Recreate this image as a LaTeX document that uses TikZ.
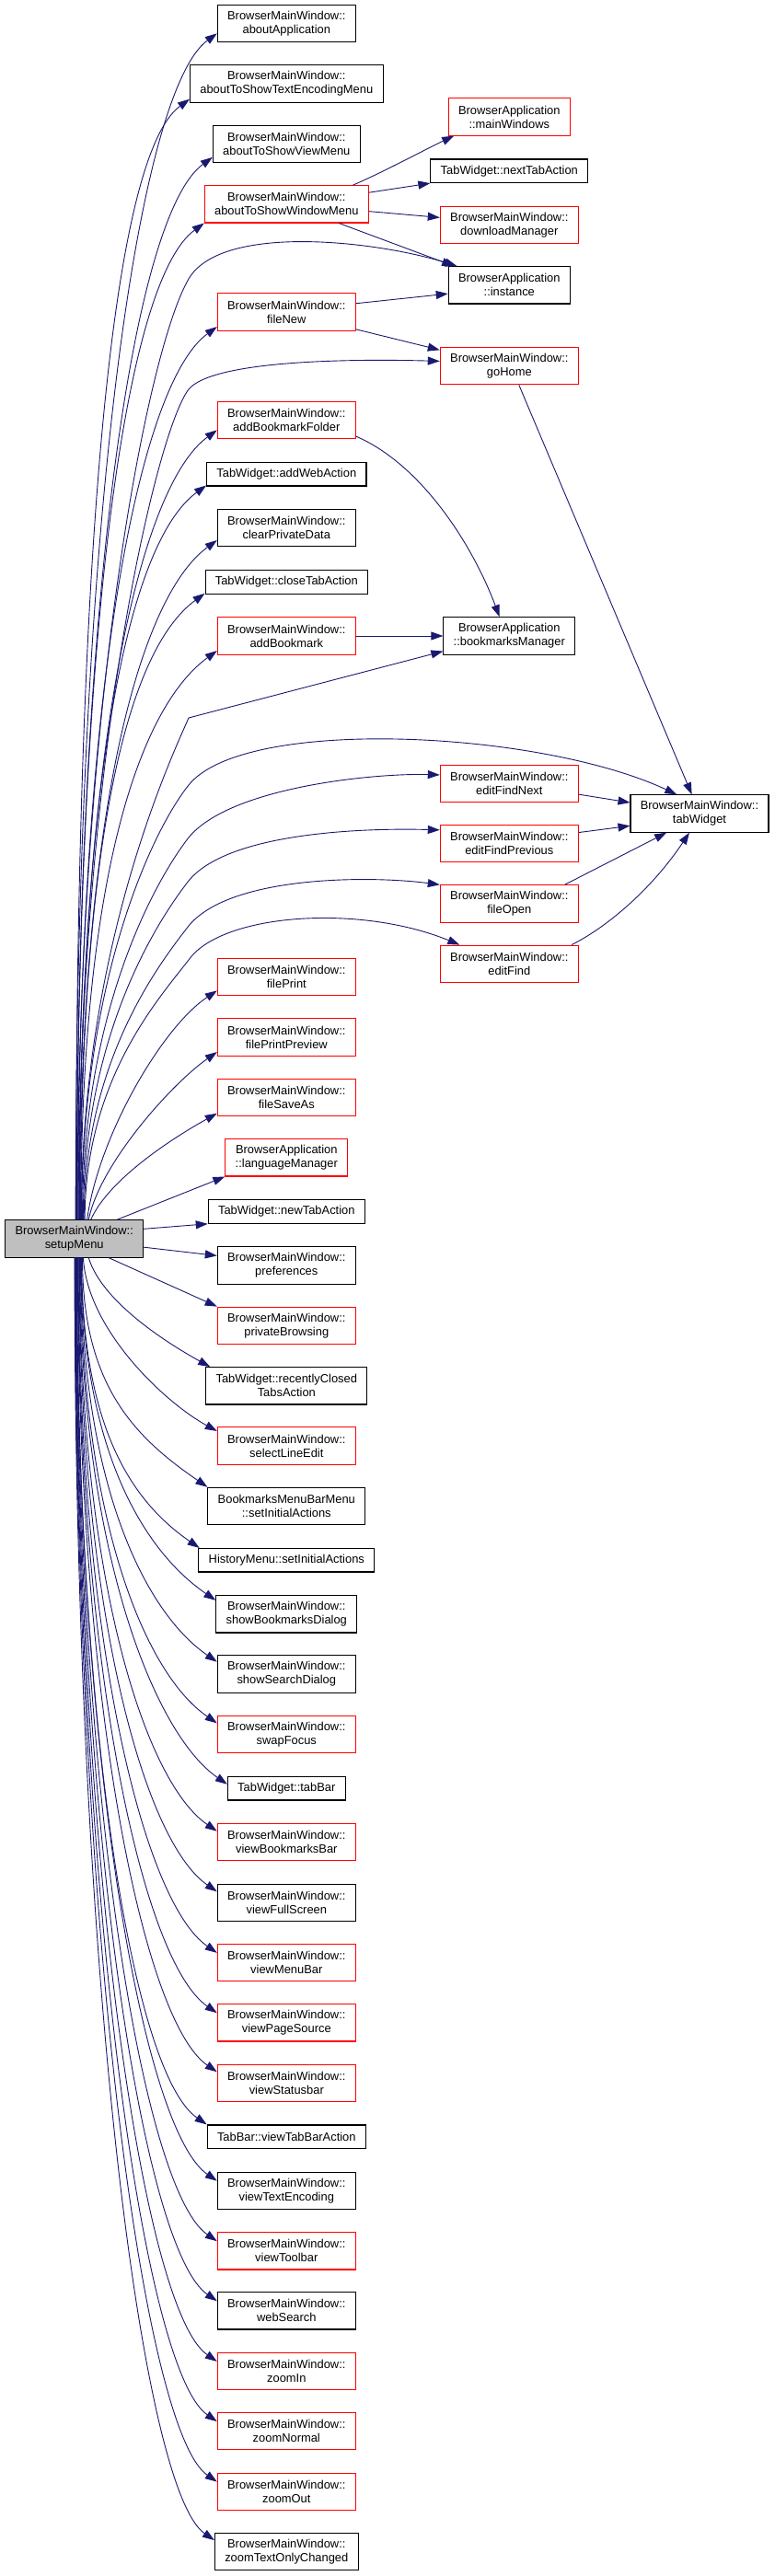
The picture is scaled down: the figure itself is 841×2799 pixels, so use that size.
\documentclass[tikz,border=0pt]{standalone}
\usepackage{fontspec}
\setmainfont{Liberation Sans}
\usepackage{xcolor}
\usepackage{tikz}
\usetikzlibrary{arrows.meta}

\definecolor{edgeblue}{HTML}{191970}
\definecolor{rootgray}{HTML}{BFBFBF}

\begin{document}
\begin{tikzpicture}[
    x=1pt, y=1pt,
    func/.style={draw=black, line width=1.1pt, font=\fontsize{12.9pt}{15pt}\selectfont, align=center, inner xsep=10.8pt, inner ysep=2pt, minimum height=25.5pt},
    tall/.style={minimum height=40.3pt},
    trunc/.style={draw=red},
    root/.style={fill=rootgray},
    call/.style={draw=edgeblue, line width=0.9pt, -{Triangle[length=13pt, width=9pt]}}
]
    \useasboundingbox (0,0) rectangle (841,-2799);

    % Root
    \node[func, tall, root] (setup) at (80.7,-1345.9) {BrowserMainWindow::\\setupMenu};

    % Called functions, first column
    \node[func, tall] (aboutApp) at (311.3,-25.7) {BrowserMainWindow::\\aboutApplication};
    \node[func, tall] (encMenu) at (311.3,-91) {BrowserMainWindow::\\aboutToShowTextEncodingMenu};
    \node[func, tall] (viewMenu) at (311.3,-156.7) {BrowserMainWindow::\\aboutToShowViewMenu};
    \node[func, tall, trunc] (winMenu) at (311.3,-221.8) {BrowserMainWindow::\\aboutToShowWindowMenu};
    \node[func, tall, trunc] (fileNew) at (311.3,-339) {BrowserMainWindow::\\fileNew};
    \node[func, tall, trunc] (addBmFolder) at (311.3,-456.7) {BrowserMainWindow::\\addBookmarkFolder};
    \node[func] (addWeb) at (311.3,-515.2) {TabWidget::addWebAction};
    \node[func, tall] (clearData) at (311.3,-573.7) {BrowserMainWindow::\\clearPrivateData};
    \node[func] (closeTab) at (311.3,-632.3) {TabWidget::closeTabAction};
    \node[func, tall, trunc] (addBm) at (311.3,-691) {BrowserMainWindow::\\addBookmark};
    \node[func, tall, trunc] (filePrint) at (311.3,-1061.7) {BrowserMainWindow::\\filePrint};
    \node[func, tall, trunc] (printPreview) at (311.3,-1127) {BrowserMainWindow::\\filePrintPreview};
    \node[func, tall, trunc] (saveAs) at (311.3,-1192.3) {BrowserMainWindow::\\fileSaveAs};
    \node[func, tall, trunc] (langMgr) at (311.3,-1257.8) {BrowserApplication\\::languageManager};
    \node[func] (newTab) at (311.3,-1316.5) {TabWidget::newTabAction};
    \node[func, tall] (prefs) at (311.3,-1375) {BrowserMainWindow::\\preferences};
    \node[func, tall, trunc] (privBrowse) at (311.3,-1440.3) {BrowserMainWindow::\\privateBrowsing};
    \node[func, tall] (recentTabs) at (311.3,-1505.8) {TabWidget::recentlyClosed\\TabsAction};
    \node[func, tall, trunc] (selLine) at (311.3,-1571) {BrowserMainWindow::\\selectLineEdit};
    \node[func, tall] (bmMenuInit) at (311.3,-1636.5) {BookmarksMenuBarMenu\\::setInitialActions};
    \node[func] (histInit) at (311.3,-1695.2) {HistoryMenu::setInitialActions};
    \node[func, tall] (showBmDlg) at (311.3,-1753.8) {BrowserMainWindow::\\showBookmarksDialog};
    \node[func, tall] (showSearch) at (311.3,-1819) {BrowserMainWindow::\\showSearchDialog};
    \node[func, tall, trunc] (swapFocus) at (311.3,-1884.3) {BrowserMainWindow::\\swapFocus};
    \node[func] (tabBar) at (311.3,-1943.2) {TabWidget::tabBar};
    \node[func, tall, trunc] (viewBmBar) at (311.3,-2001.7) {BrowserMainWindow::\\viewBookmarksBar};
    \node[func, tall] (viewFull) at (311.3,-2067.3) {BrowserMainWindow::\\viewFullScreen};
    \node[func, tall, trunc] (viewMenuBar) at (311.3,-2132.5) {BrowserMainWindow::\\viewMenuBar};
    \node[func, tall, trunc] (viewSource) at (311.3,-2197.8) {BrowserMainWindow::\\viewPageSource};
    \node[func, tall, trunc] (viewStatus) at (311.3,-2263.2) {BrowserMainWindow::\\viewStatusbar};
    \node[func] (viewTabBar) at (311.3,-2321.7) {TabBar::viewTabBarAction};
    \node[func, tall] (viewEnc) at (311.3,-2380.3) {BrowserMainWindow::\\viewTextEncoding};
    \node[func, tall, trunc] (viewToolbar) at (311.3,-2445.8) {BrowserMainWindow::\\viewToolbar};
    \node[func, tall] (webSearch) at (311.3,-2510.8) {BrowserMainWindow::\\webSearch};
    \node[func, tall, trunc] (zoomIn) at (311.3,-2576.5) {BrowserMainWindow::\\zoomIn};
    \node[func, tall, trunc] (zoomNormal) at (311.3,-2641.7) {BrowserMainWindow::\\zoomNormal};
    \node[func, tall, trunc] (zoomOut) at (311.3,-2707.2) {BrowserMainWindow::\\zoomOut};
    \node[func, tall] (zoomText) at (311.3,-2772.5) {BrowserMainWindow::\\zoomTextOnlyChanged};

    % Second column
    \node[func, tall, trunc] (mainWins) at (553.3,-127) {BrowserApplication\\::mainWindows};
    \node[func] (nextTab) at (553.3,-185.8) {TabWidget::nextTabAction};
    \node[func, tall, trunc] (downloads) at (553.3,-244.3) {BrowserMainWindow::\\downloadManager};
    \node[func, tall] (instance) at (553.3,-309.8) {BrowserApplication\\::instance};
    \node[func, tall, trunc] (goHome) at (553.3,-397.7) {BrowserMainWindow::\\goHome};
    \node[func, tall] (bmMgr) at (553.3,-691) {BrowserApplication\\::bookmarksManager};
    \node[func, tall, trunc] (findNext) at (553.3,-851.2) {BrowserMainWindow::\\editFindNext};
    \node[func, tall, trunc] (findPrev) at (553.3,-916.5) {BrowserMainWindow::\\editFindPrevious};
    \node[func, tall, trunc] (fileOpen) at (553.3,-982) {BrowserMainWindow::\\fileOpen};
    \node[func, tall, trunc] (editFind) at (553.3,-1047.3) {BrowserMainWindow::\\editFind};

    % Third column
    \node[func, tall] (tabWidget) at (760,-884) {BrowserMainWindow::\\tabWidget};

    % Calls from setupMenu, upwards
    \draw[call] (setup.86) .. controls +(0,770) and +(-85,-62) .. (aboutApp.188);
    \draw[call] (setup.85) .. controls +(0,730) and +(-85,-62) .. (encMenu.189);
    \draw[call] (setup.83) .. controls +(0,690) and +(-85,-62) .. (viewMenu.190);
    \draw[call] (setup.82) .. controls +(0,650) and +(-85,-62) .. (winMenu.193);
    \draw[call] (setup.81) .. controls +(0,560) and +(-45,-77) .. (205,-303) .. controls +(35,60) and +(-90,28) .. (instance.160);
    \draw[call] (setup.79) .. controls +(0,580) and +(-85,-62) .. (fileNew.192);
    \draw[call] (setup.78) .. controls +(0,500) and +(-35,-45) .. (205,-423) .. controls +(25,30) and +(-110,3) .. (goHome.176);
    \draw[call] (setup.76) .. controls +(0,510) and +(-85,-62) .. (addBmFolder.188);
    \draw[call] (setup.75) .. controls +(0,480) and +(-85,-62) .. (addWeb.188);
    \draw[call] (setup.74) .. controls +(0,440) and +(-85,-62) .. (clearData.190);
    \draw[call] (setup.72) .. controls +(0,410) and +(-85,-62) .. (closeTab.188);
    \draw[call] (setup.71) .. controls +(0,370) and +(-85,-62) .. (addBm.192);
    \draw[call] (setup.70) .. controls +(0,300) and +(-15,-35) .. (205,-780) -- (bmMgr.193);
    \draw[call] (setup.69) .. controls +(0,260) and +(-40,-50) .. (205,-853) .. controls +(60,75) and +(-150,70) .. (tabWidget.140);
    \draw[call] (setup.67) .. controls +(0,230) and +(-35,-45) .. (205,-910) .. controls +(45,55) and +(-70,2) .. (findNext.173);
    \draw[call] (setup.65) .. controls +(0,200) and +(-35,-45) .. (205,-957) .. controls +(45,55) and +(-70,2) .. (findPrev.169);
    \draw[call] (setup.63) .. controls +(0,170) and +(-35,-45) .. (205,-1006) .. controls +(45,55) and +(-75,10) .. (fileOpen.north west);
    \draw[call] (setup.61) .. controls +(0,150) and +(-35,-45) .. (205,-1043) .. controls +(35,50) and +(-110,45) .. (editFind.159);
    \draw[call] (setup.56) .. controls +(12,90) and +(-60,-40) .. (filePrint.191);
    \draw[call] (setup.53) .. controls +(12,60) and +(-50,-35) .. (printPreview.192);
    \draw[call] (setup.49) .. controls +(20,45) and +(-45,-25) .. (saveAs.193);
    \draw[call] (setup.24) -- (langMgr.south west);
    \draw[call] (setup.8) -- (newTab.south west);

    % Calls from setupMenu, downwards
    \draw[call] (setup.353) -- (prefs.172);
    \draw[call] (setup.331) -- (privBrowse.north west);
    \draw[call] (setup.307) .. controls +(15,-50) and +(-40,22) .. (recentTabs.166);
    \draw[call] (setup.295) .. controls +(5,-80) and +(-55,30) .. (selLine.168);
    \draw[call] (setup.293) .. controls +(0,-138) and +(-80,55) .. (bmMenuInit.north west);
    \draw[call] (setup.291) .. controls +(0,-174) and +(-80,55) .. (histInit.172);
    \draw[call] (setup.290) .. controls +(0,-205) and +(-80,55) .. (showBmDlg.169);
    \draw[call] (setup.289) .. controls +(0,-242) and +(-80,55) .. (showSearch.170);
    \draw[call] (setup.288) .. controls +(0,-279) and +(-80,55) .. (swapFocus.171);
    \draw[call] (setup.286) .. controls +(0,-315) and +(-80,55) .. (tabBar.176);
    \draw[call] (setup.285) .. controls +(0,-343) and +(-80,55) .. (viewBmBar.171);
    \draw[call] (setup.284) .. controls +(0,-380) and +(-80,55) .. (viewFull.171);
    \draw[call] (setup.282) .. controls +(0,-415) and +(-80,55) .. (viewMenuBar.172);
    \draw[call] (setup.281) .. controls +(0,-451) and +(-80,55) .. (viewSource.172);
    \draw[call] (setup.280) .. controls +(0,-487) and +(-80,55) .. (viewStatus.171);
    \draw[call] (setup.278) .. controls +(0,-519) and +(-80,55) .. (viewTabBar.north west);
    \draw[call] (setup.277) .. controls +(0,-552) and +(-80,55) .. (viewEnc.172);
    \draw[call] (setup.276) .. controls +(0,-588) and +(-80,55) .. (viewToolbar.172);
    \draw[call] (setup.275) .. controls +(0,-624) and +(-80,55) .. (webSearch.172);
    \draw[call] (setup.274) .. controls +(0,-660) and +(-80,55) .. (zoomIn.172);
    \draw[call] (setup.273) .. controls +(0,-695) and +(-80,55) .. (zoomNormal.172);
    \draw[call] (setup.272) .. controls +(0,-731) and +(-80,55) .. (zoomOut.172);
    \draw[call] (setup.271) .. controls +(0,-767) and +(-80,55) .. (zoomText.171);

    % Further calls
    \draw[call] (winMenu.16) .. controls +(35,15) and +(-30,-14) .. (mainWins.199);
    \draw[call] (winMenu.8) -- (nextTab.south west);
    \draw[call] (winMenu.355) -- (downloads.174);
    \draw[call] (winMenu.340) -- (instance.161);
    \draw[call] (fileNew.7) -- (instance.188);
    \draw[call] (fileNew.346) -- (goHome.167);
    \draw[call] (goHome.297) -- (tabWidget.112);
    \draw[call] (addBmFolder.347) .. controls +(70,-30) and +(-30,80) .. (bmMgr.117);
    \draw[call] (addBm.east) -- (bmMgr.west);
    \draw[call] (findNext.351) -- (tabWidget.171);
    \draw[call] (findPrev.9) -- (tabWidget.190);
    \draw[call] (fileOpen.19) -- (tabWidget.210);
    \draw[call] (editFind.17) .. controls +(40,20) and +(-40,-60) .. (tabWidget.242);

\end{tikzpicture}
\end{document}
